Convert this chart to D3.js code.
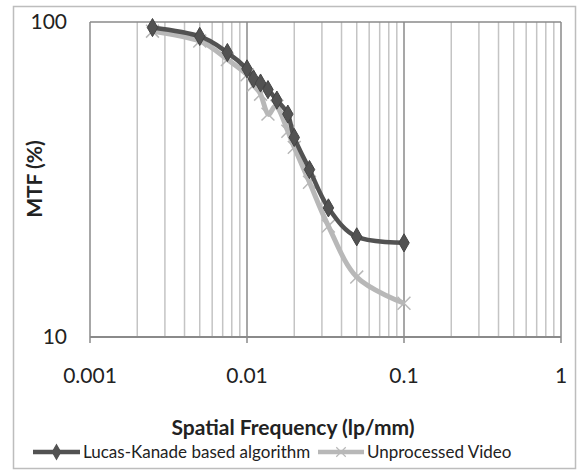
<!DOCTYPE html>
<html>
<head>
<meta charset="utf-8">
<script src="https://cdn.jsdelivr.net/npm/d3@7"></script>
<style>
  body { margin: 0; background: #fff; }
  text { font-family: Lato, "Open Sans", sans-serif; fill: #222; }
</style>
</head>
<body>
<div id="chart"></div>
<script>
// spatial frequency (lp/mm) for each measurement
var freq = [0.0025, 0.005, 0.0075, 0.01, 0.011, 0.0122, 0.0136, 0.0155, 0.0182, 0.02, 0.025, 0.033, 0.05, 0.1];
// MTF (%) per series
var lucasKanade = [96, 90, 80, 71, 66, 64, 61, 56.5, 51, 43, 34, 25.7, 20.8, 19.9];
var unprocessed = [93.5, 87, 76, 68, 63, 59, 51, 54, 45, 40, 31, 22.5, 15.5, 12.8];
var xTicks = [0.001, 0.01, 0.1, 1];
var yTicks = [10, 100];
var seriesNames = ["Lucas-Kanade based algorithm", "Unprocessed Video"];

var width = 580, height = 470;
var plotLeft = 90, plotRight = 561, plotTop = 22, plotBottom = 337;

var svg = d3.select("#chart").append("svg")
    .attr("width", width)
    .attr("height", height);

// outer chart border
svg.append("rect")
    .attr("x", 13.5).attr("y", 6.5)
    .attr("width", 562).attr("height", 462)
    .attr("fill", "none")
    .attr("stroke", "#bdbdbd")
    .attr("stroke-width", 1.5);

var x = d3.scaleLog().domain([0.001, 1]).range([plotLeft, plotRight]);
var y = d3.scaleLog().domain([10, 100]).range([plotBottom, plotTop]);

// minor vertical grid
var minor = [];
for (var dec = 0.001; dec < 0.99; dec *= 10) {
    for (var k = 2; k <= 9; k++) minor.push(dec * k);
}
svg.selectAll("minorGrid")
    .data(minor)
    .enter()
    .append("line")
    .attr("x1", function (d) { return x(d); })
    .attr("x2", function (d) { return x(d); })
    .attr("y1", plotTop).attr("y2", plotBottom)
    .attr("stroke", "#c4c4c4")
    .attr("stroke-width", 1.5);

svg.selectAll("majorGrid")
    .data(xTicks)
    .enter()
    .append("line")
    .attr("x1", function (d) { return x(d); })
    .attr("x2", function (d) { return x(d); })
    .attr("y1", plotTop).attr("y2", plotBottom + 6)
    .attr("stroke", "#8a8a8a")
    .attr("stroke-width", 1.5);

// plot border (top + bottom)
svg.append("line")
    .attr("x1", plotLeft).attr("x2", plotRight)
    .attr("y1", y(100)).attr("y2", y(100))
    .attr("stroke", "#8a8a8a").attr("stroke-width", 1.5);
svg.append("line")
    .attr("x1", plotLeft).attr("x2", plotRight)
    .attr("y1", y(10)).attr("y2", y(10))
    .attr("stroke", "#8a8a8a").attr("stroke-width", 2);

// tick labels
svg.selectAll("xLabels")
    .data(xTicks)
    .enter()
    .append("text")
    .attr("x", function (d) { return x(d); })
    .attr("y", 383)
    .attr("text-anchor", "middle")
    .style("font-size", "21px")
    .text(function (d) { return d3.format("~g")(d); });

svg.selectAll("yLabels")
    .data(yTicks)
    .enter()
    .append("text")
    .attr("x", 67)
    .attr("y", function (d) { return y(d) + 7; })
    .attr("text-anchor", "end")
    .style("font-size", "21px")
    .text(function (d) { return d; });

// axis titles
svg.append("text")
    .attr("x", 293).attr("y", 435)
    .attr("text-anchor", "middle")
    .style("font-size", "21px")
    .style("font-weight", "bold")
    .text("Spatial Frequency (lp/mm)");

svg.append("text")
    .attr("transform", "translate(42,179) rotate(-90)")
    .attr("text-anchor", "middle")
    .style("font-size", "21px")
    .style("font-weight", "bold")
    .text("MTF (%)");

var line = d3.line()
    .x(function (d) { return x(d[0]); })
    .y(function (d) { return y(d[1]); })
    .curve(d3.curveCatmullRom.alpha(0));

var lightData = d3.zip(freq, unprocessed);
var darkData = d3.zip(freq, lucasKanade);

var lightColor = "#b8b8b8", darkColor = "#525252";
var cross = d3.symbol().type(d3.symbolX).size(110);
var diamond = d3.symbol().type(d3.symbolDiamond).size(95);

// unprocessed video (light)
svg.append("path")
    .attr("d", line(lightData))
    .attr("fill", "none")
    .attr("stroke", lightColor)
    .attr("stroke-width", 5);
svg.selectAll("lightPts")
    .data(lightData)
    .enter()
    .append("path")
    .attr("d", cross)
    .attr("transform", function (d) { return "translate(" + x(d[0]) + "," + y(d[1]) + ")"; })
    .attr("fill", "none")
    .attr("stroke", lightColor)
    .attr("stroke-width", 1.5);

// lucas-kanade (dark)
svg.append("path")
    .attr("d", line(darkData))
    .attr("fill", "none")
    .attr("stroke", darkColor)
    .attr("stroke-width", 4.5);
svg.selectAll("darkPts")
    .data(darkData)
    .enter()
    .append("path")
    .attr("d", diamond)
    .attr("transform", function (d) { return "translate(" + x(d[0]) + "," + y(d[1]) + ")"; })
    .attr("fill", darkColor)
    .attr("stroke", "#444");

// legend
var legendY = 452;
var legend = [
    { name: seriesNames[0], x0: 33, x1: 80, tx: 83, color: darkColor, sym: diamond, fill: darkColor },
    { name: seriesNames[1], x0: 318, x1: 364, tx: 367, color: lightColor, sym: cross, fill: "none" }
];
var lg = svg.selectAll("legend")
    .data(legend)
    .enter()
    .append("g");
lg.append("line")
    .attr("x1", function (d) { return d.x0; })
    .attr("x2", function (d) { return d.x1; })
    .attr("y1", legendY).attr("y2", legendY)
    .attr("stroke", function (d) { return d.color; })
    .attr("stroke-width", 4.5);
lg.append("path")
    .attr("d", function (d) { return d.sym.size(60)(); })
    .attr("transform", function (d) { return "translate(" + (d.x0 + d.x1) / 2 + "," + legendY + ")"; })
    .attr("fill", function (d) { return d.fill; })
    .attr("stroke", function (d) { return d.color; })
    .attr("stroke-width", 1.2);
lg.append("text")
    .attr("x", function (d) { return d.tx; })
    .attr("y", legendY + 6)
    .style("font-size", "17px")
    .text(function (d) { return d.name; });
</script>
</body>
</html>
